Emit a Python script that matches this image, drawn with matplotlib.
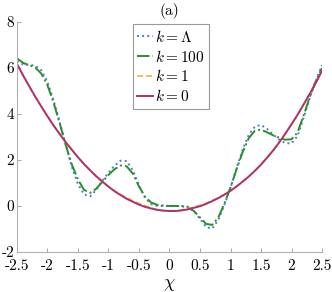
import numpy as np
import matplotlib
matplotlib.use("Agg")
import matplotlib.pyplot as plt

plt.rcParams['mathtext.fontset'] = 'cm'
plt.rcParams['font.family'] = 'cmr10'
plt.rcParams['axes.unicode_minus'] = False

# x grid of the read-off values
chi = [-2.5, -2.4, -2.3, -2.2, -2.1, -2.0, -1.9, -1.8, -1.7, -1.6,
       -1.5, -1.4, -1.3, -1.2, -1.1, -1.0, -0.9, -0.8, -0.7, -0.6,
       -0.5, -0.4, -0.3, -0.2, -0.1, 0.0, 0.1, 0.2, 0.3, 0.4,
       0.5, 0.6, 0.7, 0.8, 0.9, 1.0, 1.1, 1.2, 1.3, 1.4,
       1.5, 1.6, 1.7, 1.8, 1.9, 2.0, 2.1, 2.2, 2.3, 2.4, 2.5]

# k = Lambda
y_lambda = [6.30, 6.15, 6.13, 6.10, 5.90, 5.40, 4.60, 3.65, 2.65, 1.70,
            0.95, 0.50, 0.42, 0.70, 1.10, 1.45, 1.75, 1.97, 1.95, 1.55,
            0.90, 0.35, 0.08, 0.00, 0.00, 0.00, 0.00, 0.00, -0.03, -0.22,
            -0.55, -0.92, -0.98, -0.60, 0.05, 0.80, 1.65, 2.45, 3.10, 3.45,
            3.52, 3.35, 3.10, 2.88, 2.73, 2.72, 3.05, 3.85, 4.70, 5.45, 6.13]

# k = 100
y_100 = [6.42, 6.22, 6.12, 6.02, 5.75, 5.25, 4.50, 3.60, 2.65, 1.80,
         1.15, 0.70, 0.57, 0.75, 1.05, 1.35, 1.60, 1.76, 1.72, 1.40,
         0.85, 0.40, 0.15, 0.05, 0.02, 0.00, 0.00, -0.01, -0.06, -0.22,
         -0.50, -0.78, -0.82, -0.50, 0.10, 0.80, 1.60, 2.35, 2.95, 3.27,
         3.32, 3.20, 3.07, 2.97, 2.88, 2.90, 3.20, 3.95, 4.75, 5.45, 6.00]

# k = 1
y_1 = [6.18, 5.68, 5.21, 4.75, 4.32, 3.90, 3.50, 3.13, 2.77, 2.44,
       2.12, 1.82, 1.55, 1.29, 1.06, 0.85, 0.66, 0.50, 0.35, 0.23,
       0.11, 0.01, -0.08, -0.16, -0.21, -0.22, -0.21, -0.17, -0.12, -0.04,
       0.03, 0.12, 0.24, 0.36, 0.50, 0.66, 0.85, 1.06, 1.28, 1.53,
       1.80, 2.10, 2.42, 2.77, 3.15, 3.55, 3.97, 4.42, 4.88, 5.36, 5.88]

# k = 0
y_0 = [6.18, 5.68, 5.21, 4.75, 4.32, 3.90, 3.50, 3.13, 2.77, 2.44,
       2.12, 1.82, 1.55, 1.29, 1.06, 0.84, 0.64, 0.47, 0.31, 0.18,
       0.06, -0.04, -0.11, -0.17, -0.20, -0.22, -0.22, -0.19, -0.15, -0.08,
       -0.01, 0.09, 0.21, 0.34, 0.49, 0.66, 0.85, 1.06, 1.28, 1.53,
       1.80, 2.10, 2.42, 2.77, 3.15, 3.55, 3.97, 4.42, 4.88, 5.36, 5.88]

xticks = [-2.5, -2, -1.5, -1, -0.5, 0, 0.5, 1, 1.5, 2, 2.5]
xtick_labels = ['-2.5', '-2', '-1.5', '-1', '-0.5', '0', '0.5', '1', '1.5', '2', '2.5']
yticks = [-2, 0, 2, 4, 6, 8]
ytick_labels = ['-2', '0', '2', '4', '6', '8']

fig = plt.figure(figsize=(3.32, 2.92), dpi=100)
ax = fig.add_axes([0.051, 0.137, 0.919, 0.788])

ax.plot(chi, y_lambda, ':', color='#4f7fbf', lw=1.4, label=r'$k=\Lambda$')
ax.plot(chi, y_100, '-.', color='#2a8f2a', lw=1.4, label=r'$k=100$')
ax.plot(chi, y_1, '--', color='#e3bd3a', lw=1.2, label=r'$k=1$')
ax.plot(chi, y_0, '-', color='#b02e72', lw=1.4, label=r'$k=0$')

ax.set_xlim(-2.5, 2.5)
ax.set_ylim(-2, 8)
ax.set_xticks(xticks)
ax.set_xticklabels(xtick_labels)
ax.set_yticks(yticks)
ax.set_yticklabels(ytick_labels, va='center_baseline')
ax.tick_params(direction='in', length=3, width=0.6, color='#999999',
               labelsize=11, pad=2)
ax.tick_params(axis='x', pad=5)

for side in ['top', 'right']:
    ax.spines[side].set_visible(False)
for side in ['left', 'bottom']:
    ax.spines[side].set_color('#b0b0b0')
    ax.spines[side].set_linewidth(0.8)

ax.set_title('(a)', fontsize=11, pad=5)
ax.set_xlabel(r'$\chi$', fontsize=13, labelpad=3)

leg = ax.legend(loc='upper center', bbox_to_anchor=(0.505, 0.99), fontsize=11,
                handlelength=1.0, handletextpad=0.15, borderpad=0.3,
                labelspacing=0.25, borderaxespad=0.0, fancybox=False, framealpha=1)
leg.get_frame().set_edgecolor('#999999')
leg.get_frame().set_linewidth(0.8)

fig.savefig('out.png', dpi=100)
